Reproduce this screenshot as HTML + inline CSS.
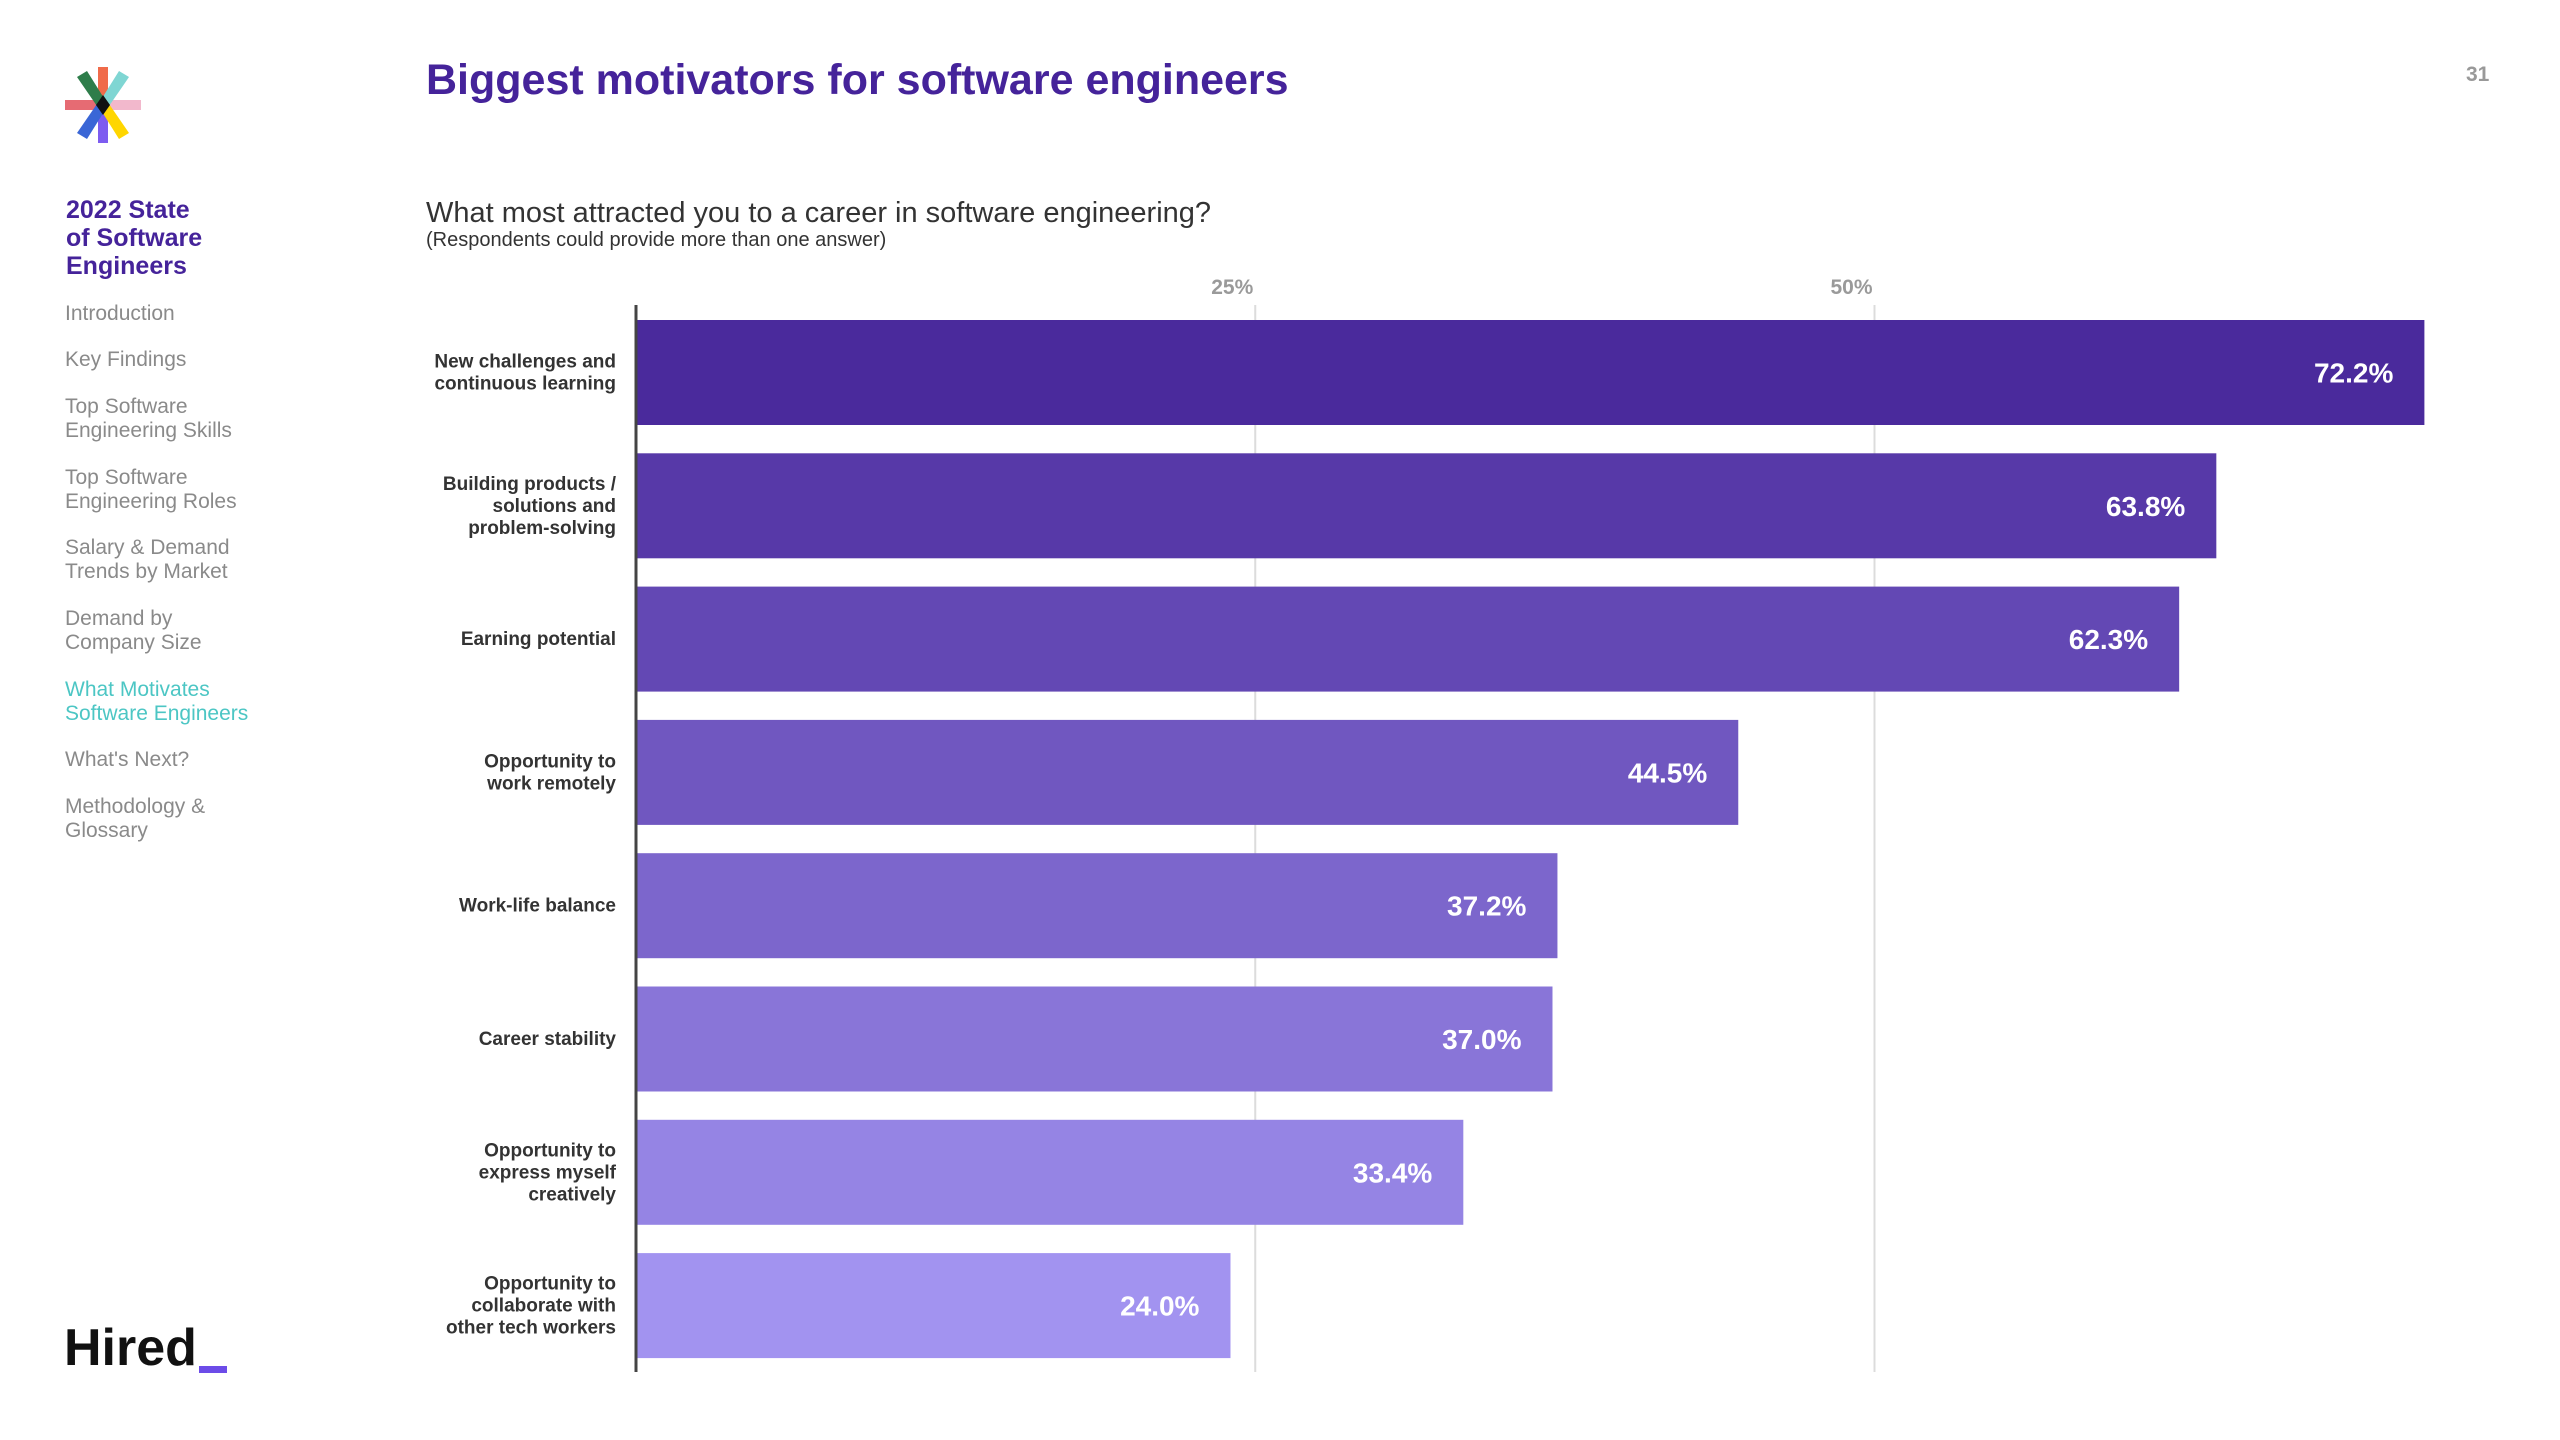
<!DOCTYPE html>
<html><head><meta charset="utf-8"><style>
body{margin:0;width:2560px;height:1440px;background:#fff;font-family:"Liberation Sans",sans-serif;position:relative;overflow:hidden}
.abs{position:absolute}
.nav{position:absolute;left:65px;font-size:21px;line-height:24px;color:#8a8a8a}
</style></head><body>
<svg class="abs" style="left:63px;top:65px" width="80" height="80" viewBox="0 0 80 80">
<rect x="35" y="2" width="10" height="38" fill="#f06b4a"/>
<rect x="35" y="40" width="10" height="38" fill="#7d5cf0"/>
<rect x="2" y="35" width="38" height="10" fill="#e66b73"/>
<rect x="40" y="35" width="38" height="10" fill="#f2b8cc"/>
<polygon points="14,12 24,6 44,38 36,44" fill="#2e7d4a"/>
<polygon points="66,12 56,6 36,38 44,44" fill="#7fd6d3"/>
<polygon points="14,68 24,74 44,42 36,36" fill="#3a66d6"/>
<polygon points="66,68 56,74 36,42 44,36" fill="#ffd600"/>
<polygon points="40,30 47,40 40,50 33,40" fill="#111"/>
</svg>
<div class="abs" style="left:426px;top:56px;font-size:43px;font-weight:bold;color:#45239a">Biggest motivators for software engineers</div>
<div class="abs" style="left:2466px;top:63px;font-size:21px;font-weight:bold;color:#999">31</div>
<div class="abs" style="left:426px;top:197px;font-size:29px;color:#333">What most attracted you to a career in software engineering?</div>
<div class="abs" style="left:426px;top:229px;font-size:20px;color:#333">(Respondents could provide more than one answer)</div>
<div class="abs" style="left:66px;top:196px;font-size:25px;line-height:28px;font-weight:bold;color:#45239a">2022 State<br>of Software<br>Engineers</div>
<div class="nav" style="top:302px">Introduction</div>
<div class="nav" style="top:348px">Key Findings</div>
<div class="nav" style="top:395px">Top Software<br>Engineering Skills</div>
<div class="nav" style="top:466px">Top Software<br>Engineering Roles</div>
<div class="nav" style="top:536px">Salary &amp; Demand<br>Trends by Market</div>
<div class="nav" style="top:607px">Demand by<br>Company Size</div>
<div class="nav" style="top:678px;color:#4cc6c4">What Motivates<br>Software Engineers</div>
<div class="nav" style="top:748px">What's Next?</div>
<div class="nav" style="top:795px">Methodology &amp;<br>Glossary</div>
<div class="abs" style="left:64px;top:1318px;font-size:52px;font-weight:bold;color:#111;letter-spacing:0px">Hired</div>
<div class="abs" style="left:199px;top:1366px;width:28px;height:7px;background:#6c4ce8"></div>
<svg id="chart" class="abs" style="left:0;top:0" width="2560" height="1440"></svg>
<script>
const categories=[["New challenges and","continuous learning"],["Building products /","solutions and","problem-solving"],["Earning potential"],["Opportunity to","work remotely"],["Work-life balance"],["Career stability"],["Opportunity to","express myself","creatively"],["Opportunity to","collaborate with","other tech workers"]];
const values=[72.2,63.8,62.3,44.5,37.2,37.0,33.4,24.0];
const ticks=[25,50];
const tickLabels=["25%","50%"];
const svg=document.getElementById('chart');const NS="http://www.w3.org/2000/svg";
const x0=636,pxPer=24.77,top0=320,pitch=133.3,bh=105;
const xs=v=>x0+v*pxPer, ys=i=>top0+i*pitch;
function mk(t,a){const e=document.createElementNS(NS,t);for(const k in a)e.setAttribute(k,a[k]);svg.appendChild(e);return e;}
ticks.forEach((t,i)=>{
 const l=mk('line',{x1:xs(t),x2:xs(t),y1:305,y2:1372,stroke:'#dcdcdc','stroke-width':2});
 
 
 const tx=mk('text',{x:xs(t)-2,y:294,'text-anchor':'end','font-size':21,'font-weight':'bold',fill:'#9a9a9a'});
 tx.textContent=tickLabels[i];
 
 
});
const c1=[74,42,156],c2=[162,147,240];
values.forEach((v,i)=>{
 const f=i/(values.length-1);
 const col=`rgb(${c1.map((c,k)=>Math.round(c+(c2[k]-c)*f)).join(',')})`;
 const r=mk('rect',{x:x0,y:ys(i),width:xs(v)-x0,height:bh,fill:col});
 
 
 const vt=mk('text',{x:xs(v)-31,y:ys(i)+bh/2+10,'text-anchor':'end','font-size':28,'font-weight':'bold',fill:'#fff'});
 vt.textContent=v.toFixed(1)+'%';
 
 
 const lines=categories[i];const lh=22;
 const t=mk('text',{x:616,'text-anchor':'end','font-size':19,'font-weight':'bold',fill:'#333'});
 
 
 lines.forEach((s,j)=>{const ts=document.createElementNS(NS,'tspan');ts.setAttribute('x',616);ts.setAttribute('y',ys(i)+bh/2+6+(j-(lines.length-1)/2)*lh);ts.textContent=s;t.appendChild(ts);});
});
const ax=mk('line',{x1:x0,x2:x0,y1:305,y2:1372,stroke:'#444','stroke-width':3});


</script>
</body></html>
